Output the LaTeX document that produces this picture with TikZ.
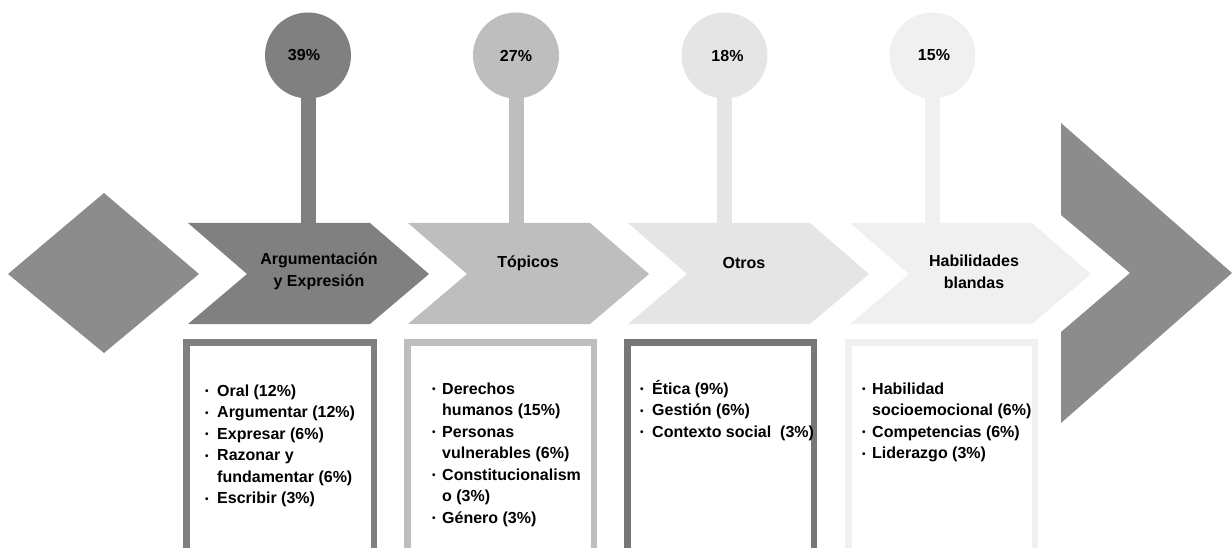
\documentclass[tikz,border=0pt]{standalone}
\usepackage{fontspec}
\setmainfont{Liberation Sans}
\definecolor{g1}{HTML}{808080}
\definecolor{g2}{HTML}{BEBEBE}
\definecolor{g3}{HTML}{E5E5E5}
\definecolor{g4}{HTML}{F0F0F0}
\definecolor{gd}{HTML}{8C8C8C}
\definecolor{b3}{HTML}{777777}
\newcommand\bul[1]{\makebox[#1][l]{\raisebox{1.4pt}{\fontsize{10}{10}\selectfont •}}}
\newcommand\chevshape[2]{\fill[#2] (#1,223) -- ++(182,0) -- ++(59,51) -- ++(-59,50) -- ++(-182,0) -- ++(59,-50) -- cycle;}
\begin{document}
\begin{tikzpicture}[x=1pt,y=-1pt,
  pct/.style={circle, minimum size=86pt, inner sep=0pt, font=\bfseries\fontsize{16}{19}\selectfont},
  stem/.style={line width=15pt, shorten <=-3pt},
  lab/.style={align=center, inner sep=0pt, font=\bfseries\fontsize{16}{22}\selectfont},
  list/.style={anchor=north west, align=left, inner sep=0pt, font=\bfseries\fontsize{16}{21.5}\selectfont},
  boxline/.style={line width=6.5pt, draw=#1}]
\useasboundingbox (0,0) rectangle (1232,548);
\begin{scope}
\clip (0,0) rectangle (1232,548);
% left diamond
\fill[gd] (8,274) -- (104,193) -- (199,274) -- (104,353) -- cycle;
% chevrons
\chevshape{188}{g1}
\chevshape{408}{g2}
\chevshape{628}{g3}
\chevshape{850}{g4}
% final big chevron
\fill[gd] (1061,123) -- (1232,273) -- (1061,423) -- (1061,332) -- (1130,273) -- (1061,215) -- cycle;
% stem ends
\coordinate (t1) at (308,224);
\coordinate (t2) at (516,224);
\coordinate (t3) at (724.5,224);
\coordinate (t4) at (932.5,224);
% circles
\node[pct, fill=g1] (c1) at (308,55.5) {\hspace*{-8pt}39\%};
\node[pct, fill=g2] (c2) at (516,55.5) {27\%};
\node[pct, fill=g3] (c3) at (724.5,55.5) {\hspace*{6pt}18\%};
\node[pct, fill=g4] (c4) at (932.5,55.5) {\hspace*{3pt}15\%};
\draw[stem, g1] (c1.south) -- (t1);
\draw[stem, g2] (c2.south) -- (t2);
\draw[stem, g3] (c3.south) -- (t3);
\draw[stem, g4] (c4.south) -- (t4);
% chevron labels
\node[lab] (l1) at (319,271) {Argumentación\\y Expresión};
\node[lab] (l2) at (528,263) {Tópicos};
\node[lab] (l3) at (744,263) {Otros};
\node[lab] (l4) at (974,272) {Habilidades\\blandas};
% boxes
\draw[boxline=g1] (186.25,560) |- (373.75,342.25) -- (373.75,560);
\draw[boxline=g2] (407.25,560) |- (593.75,342.25) -- (593.75,560);
\draw[boxline=b3] (627.25,560) |- (813.75,342.25) -- (813.75,560);
\draw[boxline=g4] (848.25,560) |- (1034.75,342.25) -- (1034.75,560);
% lists
\node[list] (x1) at (205,381) {\strut\bul{12pt}Oral (12\%)\\
  \bul{12pt}Argumentar (12\%)\\
  \bul{12pt}Expresar (6\%)\\
  \bul{12pt}Razonar y\\
  \hspace*{12pt}fundamentar (6\%)\\
  \bul{12pt}Escribir (3\%)};
\node[list] (x2) at (432,379) {\strut\bul{10pt}Derechos\\
  \hspace*{10pt}humanos (15\%)\\
  \bul{10pt}Personas\\
  \hspace*{10pt}vulnerables (6\%)\\
  \bul{10pt}Constitucionalism\\
  \hspace*{10pt}o (3\%)\\
  \bul{10pt}Género (3\%)};
\node[list] (x3) at (640,379) {\strut\bul{12pt}Ética (9\%)\\
  \bul{12pt}Gestión (6\%)\\
  \bul{12pt}Contexto social~ (3\%)};
\node[list] (x4) at (862,379) {\strut\bul{10pt}Habilidad\\
  \hspace*{10pt}socioemocional (6\%)\\
  \bul{10pt}Competencias (6\%)\\
  \bul{10pt}Liderazgo (3\%)};
\end{scope}
\end{tikzpicture}
\end{document}
